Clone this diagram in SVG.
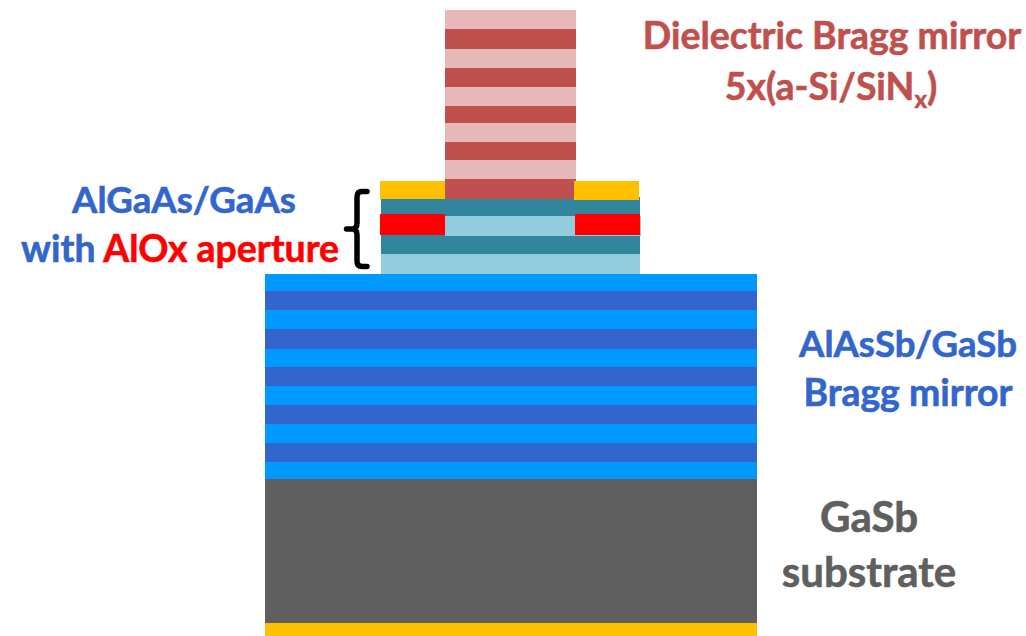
<svg xmlns="http://www.w3.org/2000/svg" width="1026" height="636" viewBox="0 0 1026 636">
<style>
.t{font-family:"Lato","Open Sans","Liberation Sans",sans-serif;font-weight:700;font-size:37.4px;text-anchor:middle;stroke-width:.6px}
.r{fill:#c0504d;stroke:#c0504d}.b{fill:#3366cc;stroke:#3366cc}.g{fill:#5f5f5f;stroke:#5f5f5f;font-size:42px}.s{font-size:36.6px}
.red{fill:#ff0000;stroke:#ff0000}
.pl{fill:#e6b9b8}.pd{fill:#c0504d}.bl{fill:#0099ff}.bd{fill:#3366cc}.te{fill:#31859c}.aq{fill:#93cddd}.au{fill:#ffc000}.ox{fill:#ff0000}
</style>
<rect width="1026" height="636" fill="#fff"/>
<g id="substrate"><rect class="au" x="265" y="623" width="492" height="13"/><rect x="265" y="479" width="492" height="144" fill="#5f5f5f"/></g>
<g id="bottom-mirror">
<rect class="bl" x="265" y="274" width="492" height="205"/>
<rect class="bd" x="265" y="291" width="492" height="19"/>
<rect class="bd" x="265" y="329" width="492" height="20"/>
<rect class="bd" x="265" y="367" width="492" height="19"/>
<rect class="bd" x="265" y="405" width="492" height="19"/>
<rect class="bd" x="265" y="443" width="492" height="19"/>
</g>
<g id="aperture-stack">
<rect class="aq" x="381" y="254" width="259" height="20"/>
<rect class="te" x="381" y="235" width="259" height="19"/>
<rect class="aq" x="445" y="216" width="196" height="20"/>
<rect class="te" x="381" y="197" width="259" height="19"/>
<rect class="ox" x="380" y="214" width="65" height="21"/>
<rect class="ox" x="575" y="214" width="65" height="21"/>
</g>
<g id="top-mirror">
<rect class="pl" x="445" y="10" width="131" height="170"/>
<rect class="pd" x="445" y="29" width="131" height="20"/>
<rect class="pd" x="445" y="68" width="131" height="19"/>
<rect class="pd" x="445" y="106" width="131" height="17"/>
<rect class="pd" x="445" y="142" width="131" height="18"/>
<rect class="pd" x="445" y="179" width="131" height="20"/>
</g>
<g id="contacts"><rect class="au" x="380" y="181" width="65" height="18"/><rect class="au" x="574" y="181" width="65" height="19"/></g>
<g id="connectors"><path d="M367 191.500H362Q357 191.500 357 197V223Q357 229 352 229H346.500M352 229Q357 229 357 235V261Q357 266.500 362 266.500H367" fill="none" stroke="#000" stroke-width="5.500" stroke-linecap="round"/></g>
<g id="labels">
<text class="t r" x="832" y="49">Dielectric Bragg mirror</text>
<text class="t r" x="831" y="100">5x(a-Si/SiN<tspan font-size="24" dy="8">x</tspan><tspan dy="-8">)</tspan></text>
<text class="t b s" x="184" y="213">AlGaAs/GaAs</text>
<text class="t b" x="180" y="262">with <tspan class="red">AlOx aperture</tspan></text>
<text class="t b s" x="908" y="357">AlAsSb/GaSb</text>
<text class="t b" x="908" y="406">Bragg mirror</text>
<text class="t g" x="869" y="532">GaSb</text>
<text class="t g" x="869" y="587">substrate</text>
</g>
</svg>
